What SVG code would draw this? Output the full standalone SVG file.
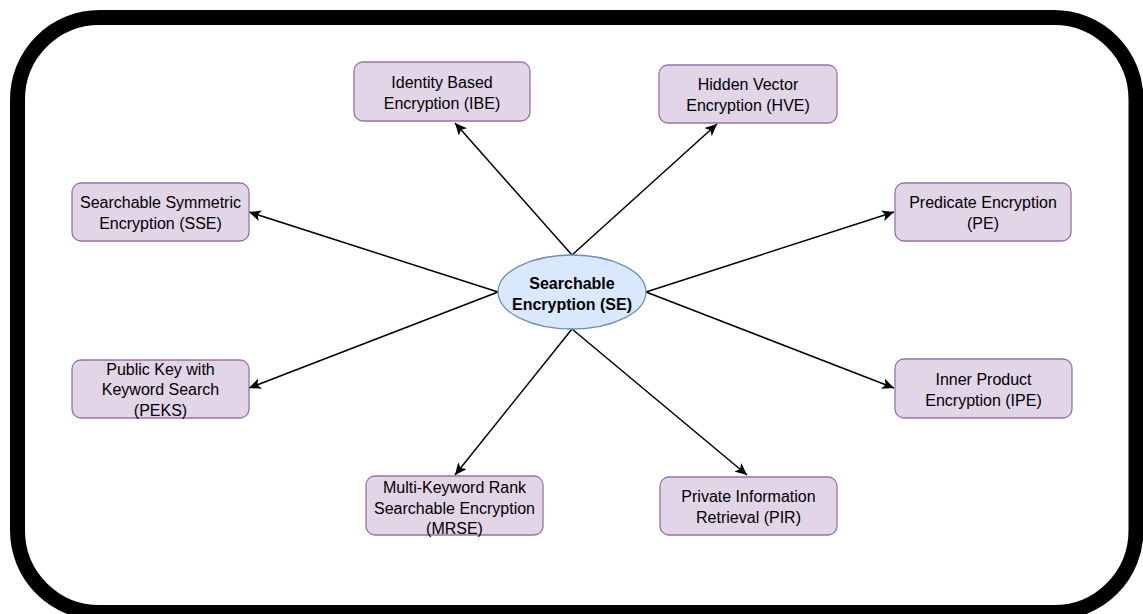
<svg xmlns="http://www.w3.org/2000/svg" width="1143" height="614" viewBox="0 0 1143 614">
  <defs>
    <style>
      .box { fill: #e1d5e7; stroke: #9673a6; stroke-width: 1.3; }
      .hub { fill: #dae8fc; stroke: #6c8ebf; stroke-width: 1.3; }
      .lbl { font-family: "Liberation Sans", Arial, sans-serif; font-size: 16px; fill: #000; text-anchor: middle; }
      .hubl { font-family: "Liberation Sans", Arial, sans-serif; font-size: 16px; font-weight: bold; fill: #000; text-anchor: middle; }
      .edge { stroke: #000; stroke-width: 1.5; fill: none; marker-end: url(#arrow); }
    </style>
    <marker id="arrow" markerUnits="userSpaceOnUse" markerWidth="14" markerHeight="12" refX="12" refY="5.5" orient="auto">
      <path d="M0,0 L12,5.5 L0,11 L3,5.5 Z" fill="#000"/>
    </marker>
  </defs>

  <rect width="1143" height="614" fill="#fff"/>

  <!-- outer frame -->
  <rect x="17.5" y="17.5" width="1118.5" height="595" rx="82" ry="82" fill="none" stroke="#000" stroke-width="15"/>

  <!-- connectors from the hub -->
  <g id="connectors">
    <line class="edge" x1="572" y1="255" x2="455" y2="123"/>
    <line class="edge" x1="572" y1="255" x2="717" y2="124"/>
    <line class="edge" x1="498" y1="292" x2="249" y2="212"/>
    <line class="edge" x1="646" y1="292" x2="894" y2="212"/>
    <line class="edge" x1="498" y1="292" x2="249" y2="388"/>
    <line class="edge" x1="646" y1="292" x2="894" y2="388"/>
    <line class="edge" x1="572" y1="329" x2="455" y2="475"/>
    <line class="edge" x1="572" y1="329" x2="747" y2="475"/>
  </g>

  <g id="se">
    <ellipse class="hub" cx="572" cy="292" rx="74" ry="37"/>
    <text class="hubl" x="572" y="289">Searchable</text>
    <text class="hubl" x="572" y="310">Encryption (SE)</text>
  </g>

  <g id="ibe">
    <rect class="box" x="354" y="62" width="176" height="59" rx="9"/>
    <text class="lbl" x="442" y="87.5">Identity Based</text>
    <text class="lbl" x="442" y="108.5">Encryption (IBE)</text>
  </g>

  <g id="hve">
    <rect class="box" x="659" y="65" width="178" height="58" rx="9"/>
    <text class="lbl" x="748" y="90">Hidden Vector</text>
    <text class="lbl" x="748" y="111">Encryption (HVE)</text>
  </g>

  <g id="sse">
    <rect class="box" x="72" y="183" width="177" height="58" rx="9"/>
    <text class="lbl" x="160.5" y="208">Searchable Symmetric</text>
    <text class="lbl" x="160.5" y="229">Encryption (SSE)</text>
  </g>

  <g id="pe">
    <rect class="box" x="895" y="183" width="176" height="58" rx="9"/>
    <text class="lbl" x="983" y="208">Predicate Encryption</text>
    <text class="lbl" x="983" y="229">(PE)</text>
  </g>

  <g id="peks">
    <rect class="box" x="72" y="360" width="177" height="58" rx="9"/>
    <text class="lbl" x="160.5" y="374.5">Public Key with</text>
    <text class="lbl" x="160.5" y="395">Keyword Search</text>
    <text class="lbl" x="160.5" y="415.5">(PEKS)</text>
  </g>

  <g id="ipe">
    <rect class="box" x="895" y="359" width="177" height="59" rx="9"/>
    <text class="lbl" x="983.5" y="384.5">Inner Product</text>
    <text class="lbl" x="983.5" y="405.5">Encryption (IPE)</text>
  </g>

  <g id="mrse">
    <rect class="box" x="366" y="476" width="177" height="59" rx="9"/>
    <text class="lbl" x="454.5" y="493">Multi-Keyword Rank</text>
    <text class="lbl" x="454.5" y="513.5">Searchable Encryption</text>
    <text class="lbl" x="454.5" y="534">(MRSE)</text>
  </g>

  <g id="pir">
    <rect class="box" x="660" y="477" width="177" height="58" rx="9"/>
    <text class="lbl" x="748.5" y="502">Private Information</text>
    <text class="lbl" x="748.5" y="523">Retrieval (PIR)</text>
  </g>
</svg>
